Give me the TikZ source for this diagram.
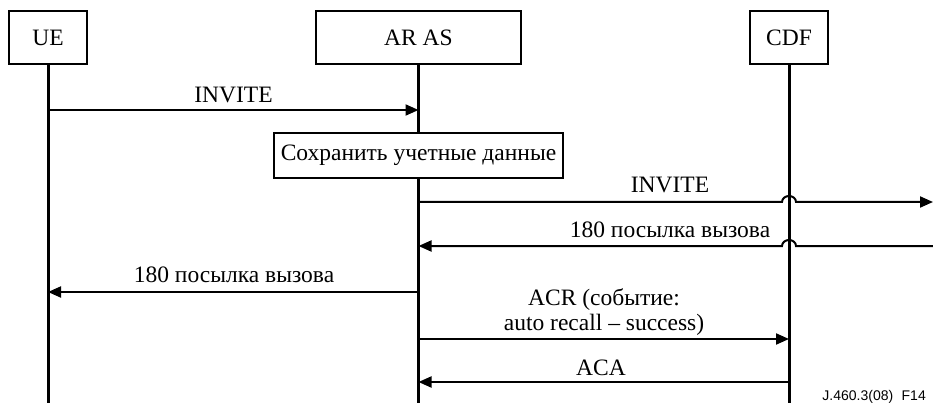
\documentclass[tikz,border=0pt]{standalone}
\usepackage{fontspec}
\setmainfont{Liberation Serif}
\newfontfamily\footfont{Liberation Sans}
\usetikzlibrary{arrows.meta}

\tikzset{
  entity/.style={draw, line width=2pt, fill=white, inner sep=0pt,
    font=\fontsize{23.5}{26}\selectfont},
  lifeline/.style={line width=3pt},
  msg/.style={line width=2pt, -{Triangle[length=13pt,width=11pt]}},
  msgtext/.style={anchor=base, inner sep=0pt,
    font=\fontsize{23.5}{25}\selectfont, align=center},
  footnote/.style={anchor=base east, inner sep=0pt,
    font=\footfont\fontsize{14}{16}\selectfont}
}

\begin{document}
\begin{tikzpicture}[x=1pt,y=1pt]
  \useasboundingbox (0,0) rectangle (933,-403);

  % participants
  \node[entity, minimum width=78pt, minimum height=53pt] (ue) at (48,-37.5) {UE};
  \node[entity, minimum width=205pt, minimum height=53pt] (ar) at (418.5,-37.5) {AR AS};
  \node[entity, minimum width=78pt, minimum height=53pt] (cdf) at (789,-37.5) {CDF};

  % levels of the messages and the lower edge
  \coordinate (bottom) at (0,-403);
  \coordinate (m1) at (0,-110);
  \coordinate (m2) at (0,-202);
  \coordinate (m3) at (0,-246);
  \coordinate (m4) at (0,-292);
  \coordinate (m5) at (0,-339);
  \coordinate (m6) at (0,-382);
  \coordinate (edge) at (933,0);

  % lifelines
  \draw[lifeline] (ue.south) -- (ue.south |- bottom);
  \draw[lifeline] (ar.south) -- (ar.south |- bottom);
  \draw[lifeline] (cdf.south) -- (cdf.south |- bottom);

  % local action
  \node[entity, minimum width=289pt, minimum height=45pt] (store) at (418.5,-155.5)
    {Сохранить учетные данные};

  % messages
  \draw[msg] (ue.south |- m1) -- (ar.south |- m1);
  \node[msgtext] (l1) at (233.5,-103) {INVITE};

  \draw[msg] (ar.south |- m2) -- ([xshift=-7pt]cdf.south |- m2)
    arc[start angle=180, end angle=0, x radius=7pt, y radius=6pt]
    -- (edge |- m2);
  \node[msgtext] (l2) at (670,-193) {INVITE};

  \draw[msg] (edge |- m3) -- ([xshift=7pt]cdf.south |- m3)
    arc[start angle=0, end angle=180, x radius=7pt, y radius=6pt]
    -- (ar.south |- m3);
  \node[msgtext] (l3) at (670,-237) {180 посылка вызова};

  \draw[msg] (ar.south |- m4) -- (ue.south |- m4);
  \node[msgtext] (l4) at (234,-282) {180 посылка вызова};

  \draw[msg] (ar.south |- m5) -- (cdf.south |- m5);
  \node[msgtext] (l5) at (604,-330) {ACR (событие:\\auto recall -- success)};

  \draw[msg] (cdf.south |- m6) -- (ar.south |- m6);
  \node[msgtext] (l6) at (601,-375) {ACA};

  % figure reference
  \node[footnote] (ref) at (926,-400) {J.460.3(08)\hspace{0.6em}F14};
\end{tikzpicture}
\end{document}
